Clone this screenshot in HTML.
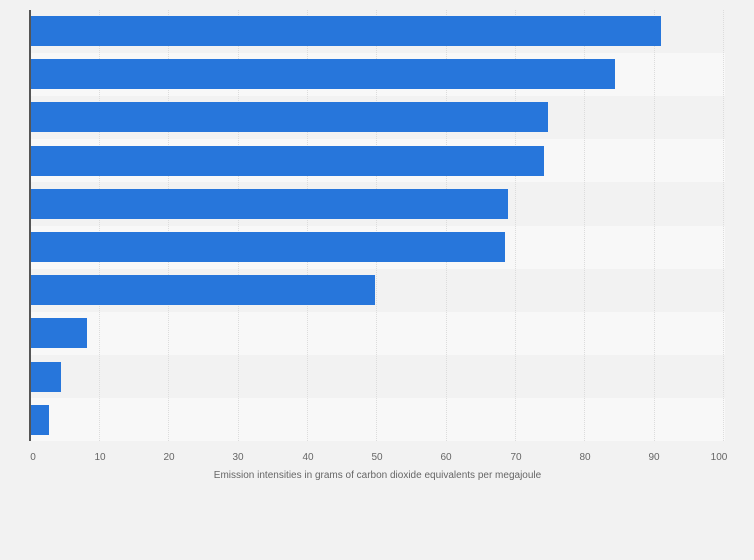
<!DOCTYPE html><html><head><style>
body{margin:0;width:754px;height:560px;background:#f2f2f2;font-family:"Liberation Sans",sans-serif;position:relative;overflow:hidden}
.row{position:absolute;left:30px;width:695px;height:43.1px}
.g{position:absolute;top:10px;height:431px;border-left:1px dotted #dcdcdc}
.bar{position:absolute;left:30px;height:30px;background:#2776db}
.t{position:absolute;top:452px;font-size:10px;color:#666;width:30px;margin-left:-15px;text-align:center}
</style></head><body>
<div class="row" style="top:10px;background:#f2f2f2"></div>
<div class="row" style="top:53.1px;background:#f8f8f8"></div>
<div class="row" style="top:96.2px;background:#f2f2f2"></div>
<div class="row" style="top:139.3px;background:#f8f8f8"></div>
<div class="row" style="top:182.4px;background:#f2f2f2"></div>
<div class="row" style="top:225.5px;background:#f8f8f8"></div>
<div class="row" style="top:268.6px;background:#f2f2f2"></div>
<div class="row" style="top:311.7px;background:#f8f8f8"></div>
<div class="row" style="top:354.8px;background:#f2f2f2"></div>
<div class="row" style="top:397.9px;background:#f8f8f8"></div>
<div class="g" style="left:99px"></div><div class="g" style="left:168px"></div><div class="g" style="left:238px"></div><div class="g" style="left:307px"></div><div class="g" style="left:376px"></div><div class="g" style="left:446px"></div><div class="g" style="left:515px"></div><div class="g" style="left:584px"></div><div class="g" style="left:654px"></div><div class="g" style="left:723px"></div>
<div class="bar" style="top:16px;width:631px"></div>
<div class="bar" style="top:59px;width:585px"></div>
<div class="bar" style="top:102px;width:518px"></div>
<div class="bar" style="top:146px;width:514px"></div>
<div class="bar" style="top:189px;width:478px"></div>
<div class="bar" style="top:232px;width:475px"></div>
<div class="bar" style="top:275px;width:345px"></div>
<div class="bar" style="top:318px;width:57px"></div>
<div class="bar" style="top:362px;width:31px"></div>
<div class="bar" style="top:405px;width:19px"></div>
<div style="position:absolute;left:29px;top:10px;width:2px;height:431px;background:#555"></div>
<div class="t" style="left:33px">0</div><div class="t" style="left:100px">10</div><div class="t" style="left:169px">20</div><div class="t" style="left:238px">30</div><div class="t" style="left:308px">40</div><div class="t" style="left:377px">50</div><div class="t" style="left:446px">60</div><div class="t" style="left:516px">70</div><div class="t" style="left:585px">80</div><div class="t" style="left:654px">90</div><div class="t" style="left:719px">100</div>
<div style="position:absolute;left:30px;width:695px;top:470px;text-align:center;font-size:10px;color:#666">Emission intensities in grams of carbon dioxide equivalents per megajoule</div>
</body></html>
